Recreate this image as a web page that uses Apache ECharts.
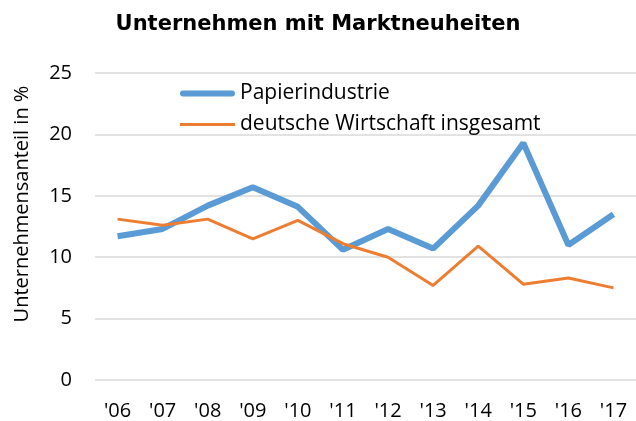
<!DOCTYPE html>
<html>
<head>
<meta charset="utf-8">
<script src="https://cdn.jsdelivr.net/npm/echarts@6/dist/echarts.min.js"></script>
<style>
  html, body { margin: 0; padding: 0; background: #fff; }
  #chart { width: 636px; height: 421px; }
</style>
</head>
<body>
<div id="chart"></div>
<script>
const years = ["'06", "'07", "'08", "'09", "'10", "'11", "'12", "'13", "'14", "'15", "'16", "'17"];
const papier = [11.7, 12.3, 14.2, 15.7, 14.1, 10.6, 12.3, 10.7, 14.2, 19.3, 11.0, 13.5];
const wirtschaft = [13.1, 12.6, 13.1, 11.5, 13.0, 11.1, 10.0, 7.7, 10.9, 7.8, 8.3, 7.5];
const yName = 'Unternehmensanteil in %';

const chart = echarts.init(document.getElementById('chart'));

const option = {
    animation: false,
    textStyle: { fontFamily: 'Open Sans' },
    title: {
        text: 'Unternehmen mit Marktneuheiten',
        left: 'center',
        top: 9,
        textStyle: { fontFamily: 'DejaVu Sans', fontWeight: 'bold', fontSize: 21, color: '#000' }
    },
    legend: {
        orient: 'vertical',
        left: 175,
        top: 78,
        itemWidth: 55,
        itemHeight: 12,
        itemGap: 10,
        textStyle: { fontSize: 21, color: '#000', fontFamily: 'Open Sans' },
        data: [
            { name: 'Papierindustrie', icon: 'path://M3,0 L53,0 A3,3 0 0 1 53,6 L3,6 A3,3 0 0 1 3,0 Z' },
            { name: 'deutsche Wirtschaft insgesamt', icon: 'path://M0,0 L56,0 L56,3 L0,3 Z' }
        ]
    },
    graphic: [{
        type: 'text',
        x: 22,
        y: 204,
        rotation: Math.PI / 2,
        style: {
            text: yName,
            fontFamily: 'Open Sans',
            fontSize: 20,
            fill: '#000',
            align: 'center',
            verticalAlign: 'middle'
        }
    }],
    grid: { left: 95, right: -4, top: 73, bottom: 40, containLabel: false },
    xAxis: {
        type: 'category',
        data: years,
        axisLine: { show: false },
        axisTick: { show: false },
        axisLabel: { fontSize: 20, color: '#000', margin: 21 }
    },
    yAxis: {
        type: 'value',
        min: 0,
        max: 25,
        interval: 5,
        axisLabel: { fontSize: 20, color: '#000', margin: 23 },
        splitLine: { lineStyle: { color: '#d9d9d9', width: 1.5 } }
    },
    series: [
        {
            name: 'Papierindustrie',
            type: 'line',
            data: papier,
            symbol: 'none',
            color: '#5B9BD5',
            lineStyle: { width: 6, color: '#5B9BD5' }
        },
        {
            name: 'deutsche Wirtschaft insgesamt',
            type: 'line',
            data: wirtschaft,
            symbol: 'none',
            color: '#ED7D31',
            lineStyle: { width: 3, color: '#ED7D31' }
        }
    ]
};

chart.setOption(option);
</script>
</body>
</html>
